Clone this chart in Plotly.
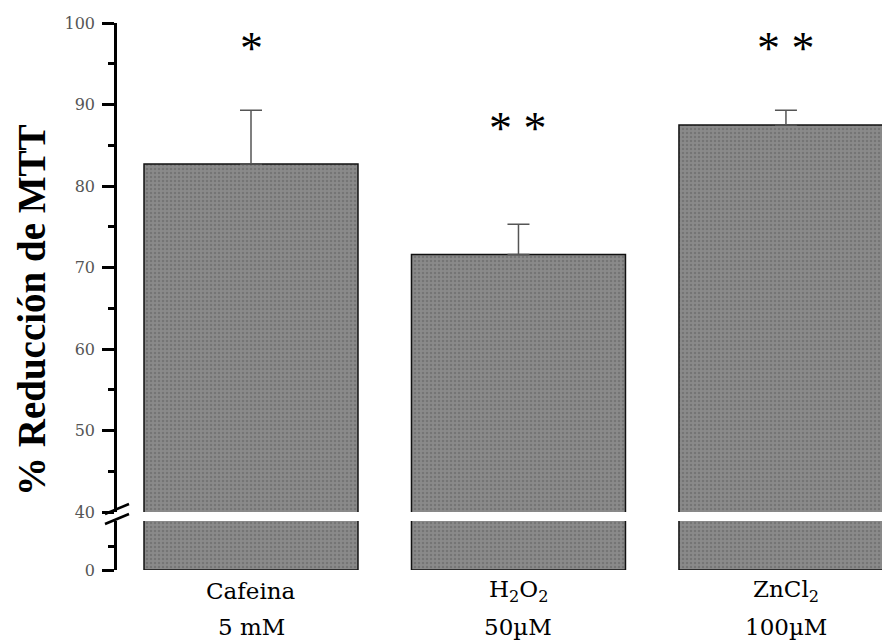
import plotly.graph_objects as go

categories = ["Cafeina", "H2O2", "ZnCl2"]
label_line1 = ["Cafeina", "H<sub>2</sub>O<sub>2</sub>", "ZnCl<sub>2</sub>"]
label_line2 = ["5 mM", "50µM", "100µM"]
values = [82.7, 71.6, 87.5]
err_upper = [89.3, 75.3, 89.3]
signif = ["*", "* *", "* *"]
signif_y = [96.9, 87.0, 96.9]

err_plus = [u - v for u, v in zip(err_upper, values)]

fill = "#8a8a8a"
pattern = dict(shape=".", fgcolor="#5f5f5f", bgcolor=fill, size=4, solidity=0.3)

fig = go.Figure()
# upper segment
fig.add_trace(go.Bar(
    x=categories, y=values, width=0.8, yaxis="y2",
    marker=dict(color=fill, line=dict(color="#111", width=1.5), pattern=pattern),
    error_y=dict(type="data", array=err_plus, arrayminus=[0]*3, symmetric=False,
                 color="#555", thickness=1.5, width=11),
    showlegend=False, hoverinfo="skip"))
# lower segment
fig.add_trace(go.Bar(
    x=categories, y=values, width=0.8, yaxis="y",
    marker=dict(color=fill, line=dict(color="#111", width=1.5), pattern=pattern),
    showlegend=False, hoverinfo="skip"))

# page body has an 8px margin: compensate (screen coords: plot left 117, top 23, bottom 570)
W, HT = 882, 632
L, R, T, B = 109, 0, 15, 70
H = HT - T - B
PW = W - L - R
def py(screen_y):
    return (570 - screen_y) / H
def px(screen_x):
    return (screen_x - 117) / PW

upper_bottom = py(512)
lower_top = py(521)

tickfont = dict(family="DejaVu Serif", size=16, color="#555")

fig.update_layout(
    width=W, height=HT,
    margin=dict(l=L, r=R, t=T, b=B, pad=0),
    plot_bgcolor="white", paper_bgcolor="white",
    xaxis=dict(type="category", range=[-0.501, 2.389], showline=False, showgrid=False,
               showticklabels=False, ticks="", zeroline=False),
    yaxis=dict(domain=[0, lower_top], range=[0, 42], tickvals=[0], ticktext=["0"],
               showline=True, linecolor="black", linewidth=2.5, ticks="outside",
               ticklen=12, tickwidth=2.5, tickcolor="black", showgrid=False, zeroline=False,
               tickfont=tickfont, ticklabelstandoff=4,
               minor=dict(tickvals=[20], ticklen=6, tickwidth=2.5, tickcolor="black", ticks="outside")),
    yaxis2=dict(domain=[upper_bottom, 1], range=[40, 100], tickvals=[40, 50, 60, 70, 80, 90, 100],
                showline=True, linecolor="black", linewidth=2.5, ticks="outside",
                ticklen=12, tickwidth=2.5, tickcolor="black", showgrid=False, zeroline=False,
                tickfont=tickfont, ticklabelstandoff=4,
                minor=dict(dtick=5, ticklen=6, tickwidth=2.5, tickcolor="black", ticks="outside")),
)

labfont = dict(family="DejaVu Serif", size=23, color="black")
for c, l1, l2 in zip(categories, label_line1, label_line2):
    fig.add_annotation(x=c, xref="x", y=py(591), yref="paper", text=l1, showarrow=False,
                       yanchor="middle", xanchor="center", font=labfont)
    fig.add_annotation(x=c, xref="x", y=py(627), yref="paper", text=l2, showarrow=False,
                       yanchor="middle", xanchor="center", font=labfont)

# significance marks
for c, s, yy in zip(categories, signif, signif_y):
    fig.add_annotation(x=c, xref="x", y=yy, yref="y2", text=s, xanchor="center",
                       showarrow=False, font=dict(family="Liberation Serif", size=46, color="black"),
                       yanchor="middle")

# y title
fig.add_annotation(x=px(31), xref="paper", y=py(310), yref="paper", text="<b>% Reducción de MTT</b>",
                   textangle=-90, showarrow=False, xanchor="center", yanchor="middle",
                   font=dict(family="Liberation Serif", size=39, color="black"))

# axis break marks
dx = 12 / PW
for yc in [py(509), py(519)]:
    fig.add_shape(type="line", xref="paper", yref="paper",
                  x0=-dx, x1=dx, y0=yc - 5 / H, y1=yc + 5 / H,
                  line=dict(color="black", width=2.5))

fig.write_html("out.html")
